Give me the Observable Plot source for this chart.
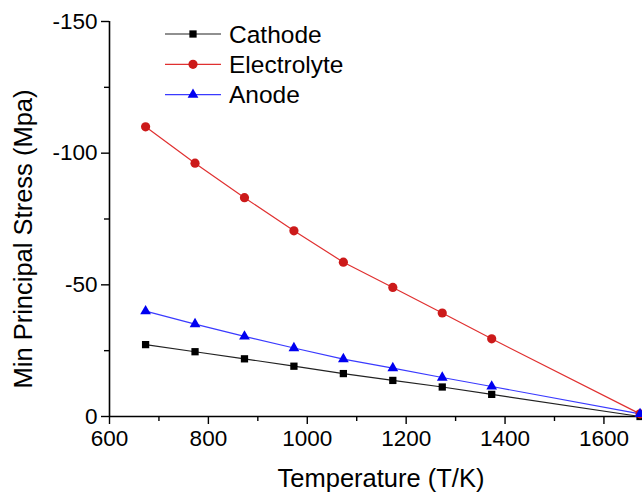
<!DOCTYPE html>
<html>
<head>
<meta charset="utf-8">
<script src="https://cdn.jsdelivr.net/npm/d3@7"></script>
<script src="https://cdn.jsdelivr.net/npm/@observablehq/plot@0.6"></script>
<style>
  html, body { margin: 0; padding: 0; background: #fff; }
  #wrap { position: relative; width: 642px; height: 499px; overflow: hidden; font-family: "Liberation Sans", Arial, sans-serif; }
  #legend { position: absolute; left: 0; top: 0; }
</style>
</head>
<body>
<div id="wrap"></div>
<script>
const temperature = [673, 773, 873, 973, 1073, 1173, 1273, 1373, 1673];
const cathode     = [-27.3, -24.6, -21.9, -19.1, -16.3, -13.7, -11.2, -8.4, 0];
const electrolyte = [-110.0, -96.2, -83.1, -70.5, -58.6, -49.0, -39.3, -29.5, -1];
const anode       = [-40.0, -35.1, -30.4, -26.0, -21.8, -18.4, -14.8, -11.4, -1];

const seriesNames = ["Cathode", "Electrolyte", "Anode"];
const seriesValues = [cathode, electrolyte, anode];
const lineColors = ["#222222", "#e03030", "#3a3aff"];
const markColors = ["#000000", "#cc1a1a", "#0000f0"];
const symbols = ["square", "circle", "triangle"];
const symbolR = [4.1, 4.6, 4.0];

const xMajor = [600, 800, 1000, 1200, 1400, 1600];
const xMinor = [700, 900, 1100, 1300, 1500];
const yMajor = [0, -50, -100, -150];
const yMinor = [-25, -75, -125];

const xLabel = "Temperature (T/K)";
const yLabel = "Min Principal Stress (Mpa)";

const rows = seriesNames.flatMap((name, i) =>
  temperature.map((t, j) => ({series: name, t, v: seriesValues[i][j], i})));

const lineMarks = seriesNames.map((name, i) =>
  Plot.line(rows.filter(d => d.i === i), {x: "t", y: "v", stroke: lineColors[i], strokeWidth: 1.2}));
const dotMarks = seriesNames.map((name, i) =>
  Plot.dot(rows.filter(d => d.i === i), {x: "t", y: "v", fill: markColors[i], stroke: "none", symbol: symbols[i], r: symbolR[i]}));

const chart = Plot.plot({
  width: 642,
  height: 499,
  marginLeft: 109,
  marginRight: 0,
  marginTop: 21,
  marginBottom: 83,
  style: {fontFamily: "'Liberation Sans', Arial, sans-serif", background: "#fff", color: "#000"},
  x: {domain: [600, 1678]},
  y: {domain: [0, -150]},
  marks: [
    Plot.axisX({ticks: xMajor, tickSize: 8, tickPadding: 6, fontSize: 22.5, label: null, tickFormat: d => String(d), strokeWidth: 1.4}),
    Plot.axisX({ticks: xMinor, tickSize: 5, tickFormat: () => "", label: null, strokeWidth: 1.4}),
    Plot.axisY({ticks: yMajor, tickSize: 8, tickPadding: 4, fontSize: 22.5, label: null, tickFormat: d => String(d), strokeWidth: 1.4}),
    Plot.axisY({ticks: yMinor, tickSize: 5, tickFormat: () => "", label: null, strokeWidth: 1.4}),
    Plot.ruleX([600], {strokeWidth: 1.6}),
    Plot.ruleY([0], {strokeWidth: 1.6}),
    ...lineMarks,
    ...dotMarks,
    Plot.text([xLabel], {frameAnchor: "bottom", text: d => d, dy: 62, dx: 5, fontSize: 25.5, textAnchor: "middle", lineAnchor: "middle", fill: "#000"}),
    Plot.text([yLabel], {frameAnchor: "left", text: d => d, dx: -86, dy: 20, rotate: -90, fontSize: 25.5, textAnchor: "middle", lineAnchor: "middle", fill: "#000"})
  ]
});

const wrap = document.getElementById("wrap");
wrap.appendChild(chart);

// Legend overlay
const legend = d3.create("svg")
  .attr("id", "legend")
  .attr("width", 642).attr("height", 499)
  .style("position", "absolute").style("left", "0px").style("top", "0px")
  .style("font-family", "'Liberation Sans', Arial, sans-serif");
const lx0 = 165, lx1 = 221, ltx = 229, ly0 = 34, ldy = 30.3;
seriesNames.forEach((name, i) => {
  const y = ly0 + i * ldy;
  const g = legend.append("g");
  g.append("line").attr("x1", lx0).attr("x2", lx1).attr("y1", y).attr("y2", y)
    .attr("stroke", lineColors[i]).attr("stroke-width", 1.2);
  const symType = symbols[i] === "square" ? d3.symbolSquare : symbols[i] === "circle" ? d3.symbolCircle : d3.symbolTriangle;
  g.append("path").attr("d", d3.symbol(symType, Math.PI * symbolR[i] * symbolR[i])())
    .attr("transform", `translate(${(lx0 + lx1) / 2},${y})`).attr("fill", markColors[i]);
  g.append("text").attr("x", ltx).attr("y", y).attr("dy", "0.35em")
    .attr("font-size", 24.5).attr("fill", "#000").text(name);
});
wrap.appendChild(legend.node());
</script>
</body>
</html>
